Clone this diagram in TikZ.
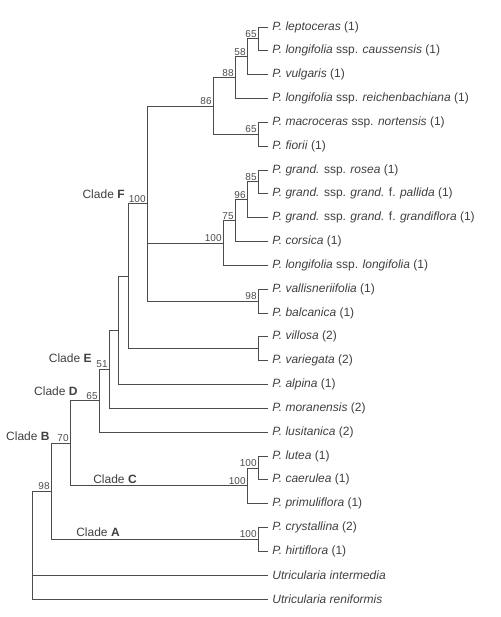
\documentclass[tikz,border=0pt]{standalone}
\usepackage{fontspec}
\setmainfont{Liberation Sans}
\usetikzlibrary{positioning}

\begin{document}
\begin{tikzpicture}[
  x=1pt, y=-1pt,
  line width=0.8pt, color=black!70,
  leaf/.style={anchor=west, inner xsep=4pt, inner ysep=1pt, font=\fontsize{12}{14}\selectfont, text=black!75},
  boot/.style={anchor=south east, inner sep=1pt, font=\fontsize{10}{12}\selectfont, text=black!70},
  clade/.style={inner sep=1pt, font=\fontsize{12}{14}\selectfont, text=black!75},
]
\useasboundingbox (0,0) rectangle (500,617);

% leaves
\node[leaf] (lepto)   at (268,27.0)  {\textit{P. leptoceras} (1)};
\node[leaf] (causs)   at (268,50.8)  {\textit{P. longifolia} ssp. \textit{caussensis} (1)};
\node[leaf] (vulg)    at (268,74.7)  {\textit{P. vulgaris} (1)};
\node[leaf] (reich)   at (268,98.5)  {\textit{P. longifolia} ssp. \textit{reichenbachiana} (1)};
\node[leaf] (macro)   at (268,122.3) {\textit{P. macroceras} ssp. \textit{nortensis} (1)};
\node[leaf] (fiorii)  at (268,146.2) {\textit{P. fiorii} (1)};
\node[leaf] (rosea)   at (268,170.0) {\textit{P. grand.} ssp. \textit{rosea} (1)};
\node[leaf] (pallida) at (268,193.8) {\textit{P. grand.} ssp. \textit{grand.} f. \textit{pallida} (1)};
\node[leaf] (grandi)  at (268,217.6) {\textit{P. grand.} ssp. \textit{grand.} f. \textit{grandiflora} (1)};
\node[leaf] (corsica) at (268,241.5) {\textit{P. corsica} (1)};
\node[leaf] (longi)   at (268,265.3) {\textit{P. longifolia} ssp. \textit{longifolia} (1)};
\node[leaf] (vallis)  at (268,289.1) {\textit{P. vallisneriifolia} (1)};
\node[leaf] (balc)    at (268,313.0) {\textit{P. balcanica} (1)};
\node[leaf] (villosa) at (268,336.8) {\textit{P. villosa} (2)};
\node[leaf] (varieg)  at (268,360.6) {\textit{P. variegata} (2)};
\node[leaf] (alpina)  at (268,384.5) {\textit{P. alpina} (1)};
\node[leaf] (moran)   at (268,408.3) {\textit{P. moranensis} (2)};
\node[leaf] (lusit)   at (268,432.1) {\textit{P. lusitanica} (2)};
\node[leaf] (lutea)   at (268,456.0) {\textit{P. lutea} (1)};
\node[leaf] (caerul)  at (268,479.8) {\textit{P. caerulea} (1)};
\node[leaf] (primul)  at (268,503.6) {\textit{P. primuliflora} (1)};
\node[leaf] (cryst)   at (268,527.4) {\textit{P. crystallina} (2)};
\node[leaf] (hirti)   at (268,551.3) {\textit{P. hirtiflora} (1)};
\node[leaf] (uinter)  at (268,575.1) {\textit{Utricularia intermedia}};
\node[leaf] (ureni)   at (268,599.0) {\textit{Utricularia reniformis}};

% inner nodes
\coordinate (n65a)  at (258,38.9);
\coordinate (n58)   at (247,56.8);
\coordinate (n88)   at (235,77.65);
\coordinate (n65b)  at (258,134.25);
\coordinate (n86)   at (213,105.95);
\coordinate (n85)   at (258,181.9);
\coordinate (n96)   at (247,199.75);
\coordinate (n75)   at (235,220.6);
\coordinate (n100l) at (223,242.95);
\coordinate (n98v)  at (258,301.05);
\coordinate (cF)    at (147,203.5);
\coordinate (nvil)  at (258,348.7);
\coordinate (n128)  at (128,276.1);
\coordinate (nalp)  at (118,330.3);
\coordinate (cE)    at (109,369.3);
\coordinate (cD)    at (99,400.7);
\coordinate (n100u) at (258,467.9);
\coordinate (cC)    at (247,485.75);
\coordinate (cB)    at (70,443.2);
\coordinate (cA)    at (258,539.35);
\coordinate (n98)   at (51,491.3);
\coordinate (root)  at (32,545.15);

% branches
\draw (n65a) |- (lepto.west) (n65a) |- (causs.west);
\draw (n58) |- (n65a) (n58) |- (vulg.west);
\draw (n88) |- (n58) (n88) |- (reich.west);
\draw (n65b) |- (macro.west) (n65b) |- (fiorii.west);
\draw (n86) |- (n88) (n86) |- (n65b);
\draw (n85) |- (rosea.west) (n85) |- (pallida.west);
\draw (n96) |- (n85) (n96) |- (grandi.west);
\draw (n75) |- (n96) (n75) |- (corsica.west);
\draw (n100l) |- (n75) (n100l) |- (longi.west);
\draw (n98v) |- (vallis.west) (n98v) |- (balc.west);
\draw (cF) |- (n86) (cF) |- (n100l) (cF) |- (n98v);
\draw (nvil) |- (villosa.west) (nvil) |- (varieg.west);
\draw (n128) |- (cF) (n128) |- (nvil);
\draw (nalp) |- (n128) (nalp) |- (alpina.west);
\draw (cE) |- (nalp) (cE) |- (moran.west);
\draw (cD) |- (cE) (cD) |- (lusit.west);
\draw (n100u) |- (lutea.west) (n100u) |- (caerul.west);
\draw (cC) |- (n100u) (cC) |- (primul.west);
\draw (cB) |- (cD) (cB) |- (cC);
\draw (cA) |- (cryst.west) (cA) |- (hirti.west);
\draw (n98) |- (cB) (n98) |- (cA);
\draw (root) |- (n98) (root) |- (uinter.west) (root) |- (ureni.west);

% support values
\node[boot] (b65a)  at (n65a)  {65};
\node[boot] (b58)   at (n58)   {58};
\node[boot] (b88)   at (n88)   {88};
\node[boot] (b65b)  at (n65b)  {65};
\node[boot] (b86)   at (n86)   {86};
\node[boot] (b85)   at (n85)   {85};
\node[boot] (b96)   at (n96)   {96};
\node[boot] (b75)   at (n75)   {75};
\node[boot] (b100l) at (n100l) {100};
\node[boot] (b98v)  at (n98v)  {98};
\node[boot] (bF)    at (cF)    {100};
\node[boot] (bE)    at (cE)    {51};
\node[boot] (bD)    at (cD)    {65};
\node[boot] (b100u) at (n100u) {100};
\node[boot] (bC)    at (cC)    {100};
\node[boot] (bB)    at (cB)    {70};
\node[boot] (bA)    at (cA)    {100};
\node[boot] (b98)   at (n98)   {98};

% clade names
\node[clade, anchor=east] (labF) at (126,194) {Clade \textbf{F}};
\node[clade, anchor=east] (labE) at (93,358)  {Clade \textbf{E}};
\node[clade, anchor=east] (labD) at (79,391)  {Clade \textbf{D}};
\node[clade, anchor=east] (labB) at (51,436)  {Clade \textbf{B}};
\node[clade] (labC) at (115,479) {Clade \textbf{C}};
\node[clade] (labA) at (98,532)  {Clade \textbf{A}};
\end{tikzpicture}
\end{document}
